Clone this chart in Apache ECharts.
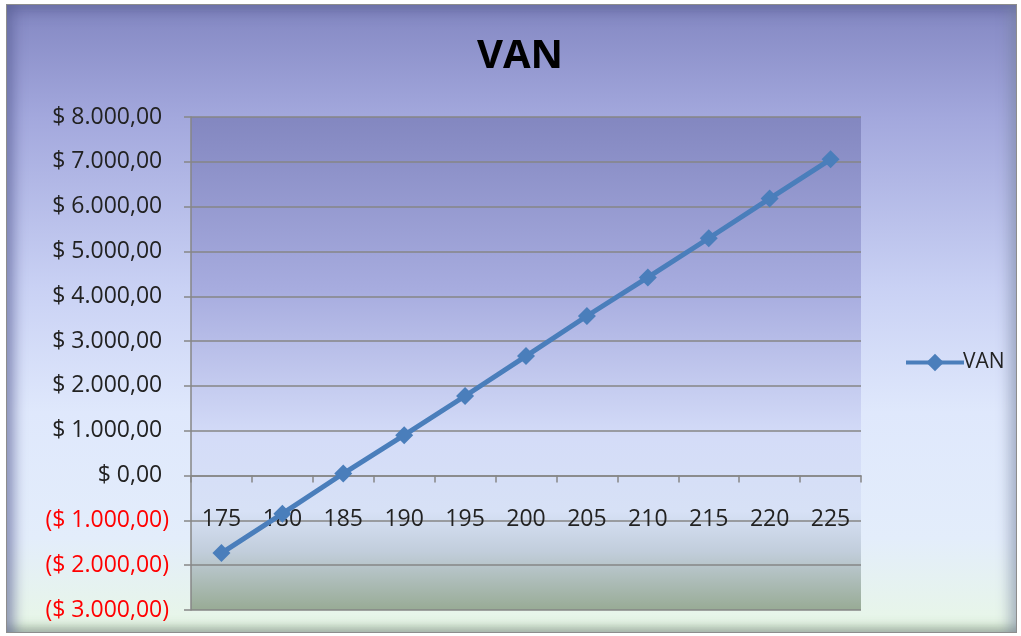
<!DOCTYPE html>
<html>
	<head>
		<meta charset="utf-8" />
		<title>VAN</title>
		<style>
			html,body{margin:0;padding:0;background:#fff;}
			#wrap{position:absolute;left:6px;top:4px;width:1009px;height:627px;border:1px solid #8d8d8d;
				background:linear-gradient(to bottom,#8387c2 0%,#a3a8dd 18%,#c9d1f4 45%,#dfe8fc 65%,#e3edfb 85%,#e8f7e6 100%);
				box-shadow:inset 14px 0 12px -6px rgba(90,95,150,0.55),inset -14px 0 12px -6px rgba(120,130,160,0.45),inset 0 14px 12px -6px rgba(90,95,150,0.5),inset 0 -12px 10px -6px rgba(120,140,120,0.5);}
			#chart{position:absolute;left:-6px;top:-4px;width:1021px;height:636px;}
		</style>
	</head>
	<body>
		<div id="wrap"><div id="chart"></div></div>
		<script src="https://cdn.jsdelivr.net/npm/echarts@6/dist/echarts.min.js"></script>
		<script>
			// datos
			var categorias = ['175','180','185','190','195','200','205','210','215','220','225'];
			var van = [-1730,-850,45,900,1775,2665,3560,4420,5295,6180,7055];
			var yMin = -3000, yMax = 8000, yPaso = 1000;

			function moneda(v){
				var abs = Math.abs(v);
				var s = abs.toFixed(2).split('.');
				var ent = s[0].replace(/\B(?=(\d{3})+(?!\d))/g,'.');
				return '$ ' + ent + ',' + s[1];
			}

			var myChart = echarts.init(document.getElementById('chart'));
			myChart.setOption({
				backgroundColor:'transparent',
				textStyle:{fontFamily:'Open Sans'},
				title:{
					text:'VAN',
					left:514,
					top:31,
					textAlign:'center',
					textStyle:{fontSize:40,fontWeight:'bold',color:'#000',fontFamily:'Open Sans'}
				},
				legend:{
					data:['VAN'],
					left:898,
					top:346,
					itemWidth:58,
					itemHeight:22,
					itemGap:4,
					lineStyle:{width:4},
					textStyle:{fontSize:21,color:'#222',padding:[0,0,0,-6]}
				},
				grid:{
					left:190,right:161,top:116,bottom:27,
					outerBoundsMode:'none',
					containLabel:false,
					show:true,
					borderWidth:0,
					backgroundColor:{
						type:'linear',x:0,y:0,x2:0,y2:1,
						colorStops:[
							{offset:0,color:'#8387c0'},
							{offset:0.35,color:'#a7acdf'},
							{offset:0.65,color:'#d4dcf8'},
							{offset:0.8,color:'#d7e1f6'},
							{offset:0.88,color:'#c2cedc'},
							{offset:1,color:'#98ab95'}
						]
					}
				},
				xAxis:{
					type:'category',
					data:categorias,
					boundaryGap:true,
					axisLine:{onZero:true,lineStyle:{color:'#868686',width:1.5}},
					axisTick:{show:true,length:7,lineStyle:{color:'#868686',width:1.5}},
					axisLabel:{margin:-102,fontSize:23,color:'#222'}
				},
				yAxis:{
					type:'value',
					min:yMin,max:yMax,interval:yPaso,
					axisLine:{show:true,lineStyle:{color:'#868686',width:1.5}},
					axisTick:{show:true,length:7,lineStyle:{color:'#868686',width:1.5}},
					splitLine:{lineStyle:{color:'#868686',width:1.5}},
					axisLabel:{
						margin:22,
						fontSize:23,
						color:'#222',
						formatter:function(v){
							if(v < 0){ return '{neg|(' + moneda(v) + ')}'; }
							return moneda(v) + '{pad|)}';
						},
						rich:{
							neg:{color:'#ff0000',fontSize:23,fontFamily:'Open Sans'},
							pad:{color:'rgba(0,0,0,0)',fontSize:23,fontFamily:'Open Sans'}
						}
					}
				},
				series:[{
					name:'VAN',
					type:'line',
					data:van,
					symbol:'diamond',
					symbolSize:18,
					lineStyle:{color:'#4a7ebb',width:5},
					itemStyle:{color:'#4a7ebb'}
				}]
			});
		</script>
	</body>
</html>
